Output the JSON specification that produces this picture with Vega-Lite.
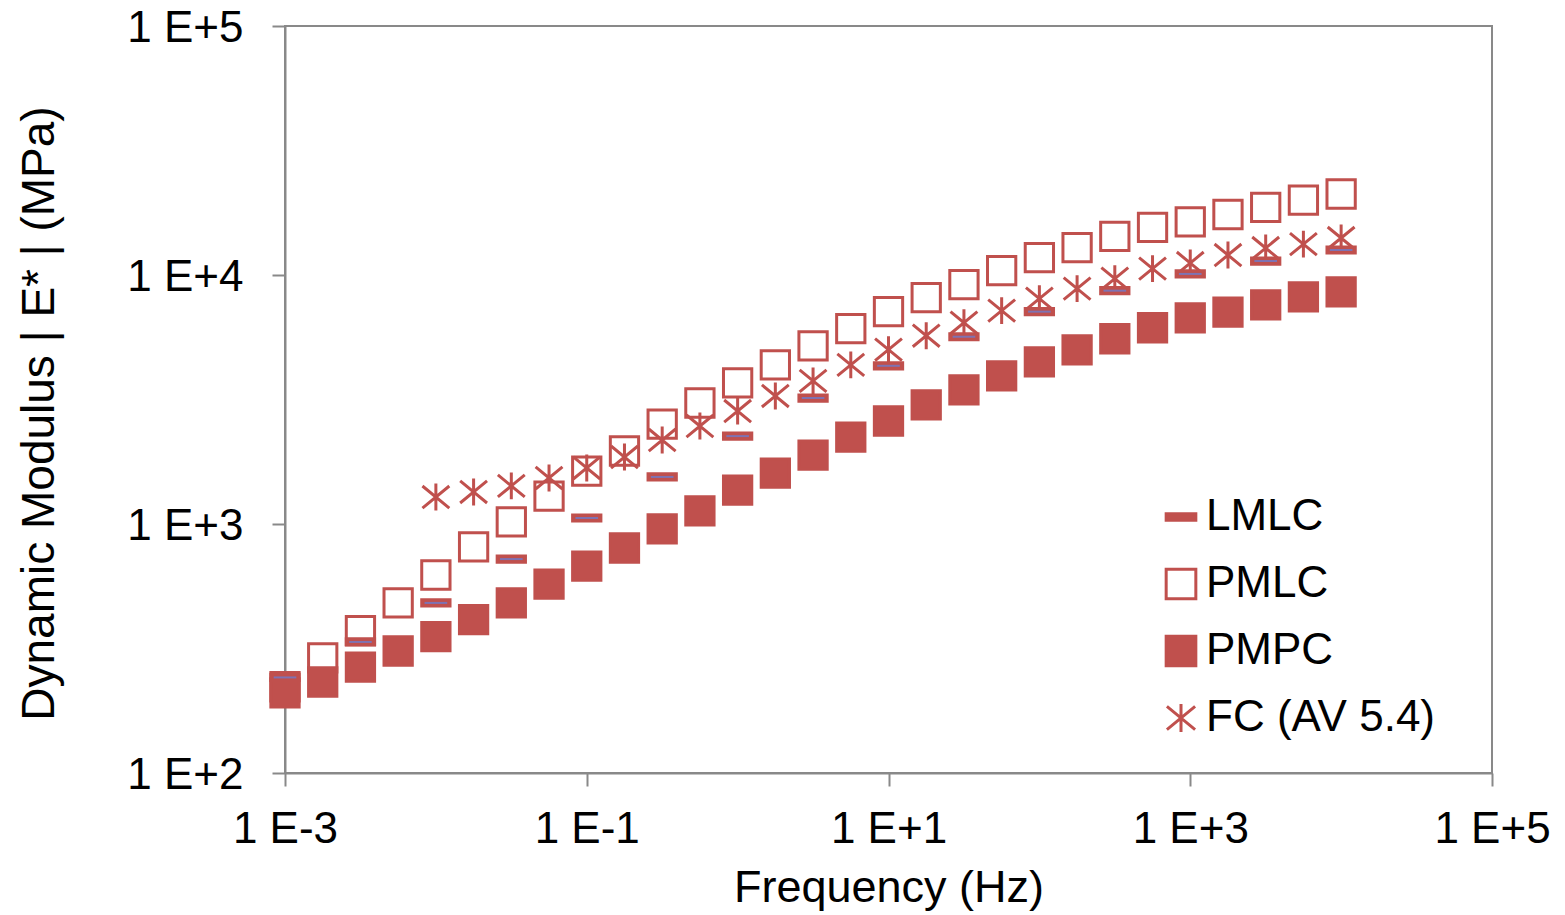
{
  "$schema": "https://vega.github.io/schema/vega-lite/v6.json",
  "width": 1207,
  "height": 747,
  "autosize": {"type": "none"},
  "padding": {"left": 285, "top": 26, "right": 73, "bottom": 142},
  "background": "white",
  "config": {
    "font": "Liberation Sans",
    "view": {"stroke": "#898989", "strokeWidth": 2},
    "legend": {
      "orient": "none",
      "legendX": 874,
      "legendY": 469,
      "labelFontSize": 44,
      "labelFont": "Liberation Sans",
      "labelColor": "black",
      "labelLimit": 400,
      "labelOffset": 3,
      "symbolSize": 880,
      "symbolStrokeWidth": 3,
      "symbolOpacity": 1,
      "rowPadding": 23,
      "padding": 0,
      "title": null
    }
  },
  "datasets": {
    "pts": [
      {"f": 0.001, "E": 222, "s": "PMLC"},
      {"f": 0.0017783, "E": 290, "s": "PMLC"},
      {"f": 0.0031623, "E": 373, "s": "PMLC"},
      {"f": 0.0056234, "E": 482, "s": "PMLC"},
      {"f": 0.01, "E": 624, "s": "PMLC"},
      {"f": 0.017783, "E": 809, "s": "PMLC"},
      {"f": 0.031623, "E": 1019, "s": "PMLC"},
      {"f": 0.056234, "E": 1295, "s": "PMLC"},
      {"f": 0.1, "E": 1632, "s": "PMLC"},
      {"f": 0.17783, "E": 1964, "s": "PMLC"},
      {"f": 0.31623, "E": 2520, "s": "PMLC"},
      {"f": 0.56234, "E": 3062, "s": "PMLC"},
      {"f": 1, "E": 3686, "s": "PMLC"},
      {"f": 1.7783, "E": 4357, "s": "PMLC"},
      {"f": 3.1623, "E": 5196, "s": "PMLC"},
      {"f": 5.6234, "E": 6087, "s": "PMLC"},
      {"f": 10, "E": 7125, "s": "PMLC"},
      {"f": 17.783, "E": 8113, "s": "PMLC"},
      {"f": 31.623, "E": 9150, "s": "PMLC"},
      {"f": 56.234, "E": 10420, "s": "PMLC"},
      {"f": 100, "E": 11750, "s": "PMLC"},
      {"f": 177.83, "E": 12890, "s": "PMLC"},
      {"f": 316.23, "E": 14280, "s": "PMLC"},
      {"f": 562.34, "E": 15530, "s": "PMLC"},
      {"f": 1000, "E": 16330, "s": "PMLC"},
      {"f": 1778.3, "E": 17500, "s": "PMLC"},
      {"f": 3162.3, "E": 18700, "s": "PMLC"},
      {"f": 5623.4, "E": 20000, "s": "PMLC"},
      {"f": 10000, "E": 21150, "s": "PMLC"},

      {"f": 0.001, "E": 210, "s": "PMPC"},
      {"f": 0.0017783, "E": 232, "s": "PMPC"},
      {"f": 0.0031623, "E": 266, "s": "PMPC"},
      {"f": 0.0056234, "E": 309, "s": "PMPC"},
      {"f": 0.01, "E": 353, "s": "PMPC"},
      {"f": 0.017783, "E": 413, "s": "PMPC"},
      {"f": 0.031623, "E": 482, "s": "PMPC"},
      {"f": 0.056234, "E": 574, "s": "PMPC"},
      {"f": 0.1, "E": 678, "s": "PMPC"},
      {"f": 0.17783, "E": 801, "s": "PMPC"},
      {"f": 0.31623, "E": 955, "s": "PMPC"},
      {"f": 0.56234, "E": 1128, "s": "PMPC"},
      {"f": 1, "E": 1367, "s": "PMPC"},
      {"f": 1.7783, "E": 1600, "s": "PMPC"},
      {"f": 3.1623, "E": 1891, "s": "PMPC"},
      {"f": 5.6234, "E": 2235, "s": "PMPC"},
      {"f": 10, "E": 2592, "s": "PMPC"},
      {"f": 17.783, "E": 3008, "s": "PMPC"},
      {"f": 31.623, "E": 3455, "s": "PMPC"},
      {"f": 56.234, "E": 3933, "s": "PMPC"},
      {"f": 100, "E": 4480, "s": "PMPC"},
      {"f": 177.83, "E": 5008, "s": "PMPC"},
      {"f": 316.23, "E": 5546, "s": "PMPC"},
      {"f": 562.34, "E": 6140, "s": "PMPC"},
      {"f": 1000, "E": 6733, "s": "PMPC"},
      {"f": 1778.3, "E": 7100, "s": "PMPC"},
      {"f": 3162.3, "E": 7586, "s": "PMPC"},
      {"f": 5623.4, "E": 8170, "s": "PMPC"},
      {"f": 10000, "E": 8550, "s": "PMPC"},

      {"f": 0.01, "E": 1283, "s": "FC (AV 5.4)"},
      {"f": 0.017783, "E": 1345, "s": "FC (AV 5.4)"},
      {"f": 0.031623, "E": 1422, "s": "FC (AV 5.4)"},
      {"f": 0.056234, "E": 1531, "s": "FC (AV 5.4)"},
      {"f": 0.1, "E": 1679, "s": "FC (AV 5.4)"},
      {"f": 0.17783, "E": 1858, "s": "FC (AV 5.4)"},
      {"f": 0.31623, "E": 2174, "s": "FC (AV 5.4)"},
      {"f": 0.56234, "E": 2474, "s": "FC (AV 5.4)"},
      {"f": 1, "E": 2843, "s": "FC (AV 5.4)"},
      {"f": 1.7783, "E": 3268, "s": "FC (AV 5.4)"},
      {"f": 3.1623, "E": 3756, "s": "FC (AV 5.4)"},
      {"f": 5.6234, "E": 4357, "s": "FC (AV 5.4)"},
      {"f": 10, "E": 5013, "s": "FC (AV 5.4)"},
      {"f": 17.783, "E": 5705, "s": "FC (AV 5.4)"},
      {"f": 31.623, "E": 6433, "s": "FC (AV 5.4)"},
      {"f": 56.234, "E": 7191, "s": "FC (AV 5.4)"},
      {"f": 100, "E": 8037, "s": "FC (AV 5.4)"},
      {"f": 177.83, "E": 8816, "s": "FC (AV 5.4)"},
      {"f": 316.23, "E": 9668, "s": "FC (AV 5.4)"},
      {"f": 562.34, "E": 10610, "s": "FC (AV 5.4)"},
      {"f": 1000, "E": 11170, "s": "FC (AV 5.4)"},
      {"f": 1778.3, "E": 12030, "s": "FC (AV 5.4)"},
      {"f": 3162.3, "E": 12830, "s": "FC (AV 5.4)"},
      {"f": 5623.4, "E": 13310, "s": "FC (AV 5.4)"},
      {"f": 10000, "E": 14080, "s": "FC (AV 5.4)"},

      {"f": 0.001, "E": 242, "s": "LMLC"},
      {"f": 0.0031623, "E": 336, "s": "LMLC"},
      {"f": 0.01, "E": 482, "s": "LMLC"},
      {"f": 0.031623, "E": 723, "s": "LMLC"},
      {"f": 0.1, "E": 1057, "s": "LMLC"},
      {"f": 0.31623, "E": 1545, "s": "LMLC"},
      {"f": 1, "E": 2254, "s": "LMLC"},
      {"f": 3.1623, "E": 3206, "s": "LMLC"},
      {"f": 10, "E": 4318, "s": "LMLC"},
      {"f": 31.623, "E": 5650, "s": "LMLC"},
      {"f": 100, "E": 7125, "s": "LMLC"},
      {"f": 316.23, "E": 8650, "s": "LMLC"},
      {"f": 1000, "E": 10100, "s": "LMLC"},
      {"f": 3162.3, "E": 11380, "s": "LMLC"},
      {"f": 10000, "E": 12600, "s": "LMLC"}
    ]
  },
  "data": {"name": "pts"},
  "encoding": {
    "x": {
      "field": "f",
      "type": "quantitative",
      "scale": {"type": "log", "domain": [0.001, 100000], "nice": false},
      "axis": {
        "values": [0.001, 0.1, 10, 1000, 100000],
        "labelExpr": "'1 E' + (datum.value >= 1 ? '+' : '') + round(log(datum.value) / LN10)",
        "labelFontSize": 44,
        "labelFont": "Liberation Sans",
        "labelColor": "black",
        "labelPadding": 21,
        "labelFlush": false,
        "labelOverlap": false,
        "labelBound": false,
        "tickSize": 13,
        "tickColor": "#898989",
        "tickWidth": 2,
        "domainColor": "#898989",
        "domainWidth": 2,
        "grid": false,
        "title": "Frequency (Hz)",
        "titleFont": "Liberation Sans",
        "titleFontSize": 45,
        "titleFontWeight": "normal",
        "titleColor": "black",
        "titleBaseline": "alphabetic",
        "titleAlign": "center",
        "titleX": 603.5,
        "titleY": 128
      }
    },
    "y": {
      "field": "E",
      "type": "quantitative",
      "scale": {"type": "log", "domain": [100, 100000], "nice": false},
      "axis": {
        "values": [100, 1000, 10000, 100000],
        "labelExpr": "'1 E' + (datum.value >= 1 ? '+' : '') + round(log(datum.value) / LN10)",
        "labelFontSize": 44,
        "labelFont": "Liberation Sans",
        "labelColor": "black",
        "labelPadding": 29,
        "labelOffset": 2,
        "labelFlush": false,
        "labelOverlap": false,
        "labelBound": false,
        "tickSize": 13,
        "tickColor": "#898989",
        "tickWidth": 2,
        "domainColor": "#898989",
        "domainWidth": 2,
        "grid": false,
        "title": "Dynamic Modulus | E* |  (MPa)",
        "titleFont": "Liberation Sans",
        "titleFontSize": 46,
        "titleFontWeight": "normal",
        "titleColor": "black",
        "titleAngle": -90,
        "titleBaseline": "alphabetic",
        "titleAlign": "center",
        "titleX": -232,
        "titleY": 387
      }
    }
  },
  "layer": [
    {
      "mark": {"type": "point", "size": 800, "strokeWidth": 3, "opacity": 1},
      "encoding": {
        "shape": {
          "field": "s",
          "type": "nominal",
          "scale": {
            "domain": ["LMLC", "PMLC", "PMPC", "FC (AV 5.4)"],
            "range": ["M-1,-0.22H1V0.22H-1Z", "square", "square", "M0,-0.95V0.95M-0.95,-0.78L0.95,0.78M-0.95,0.78L0.95,-0.78"]
          },
          "legend": {"title": null}
        },
        "fill": {
          "field": "s",
          "type": "nominal",
          "scale": {
            "domain": ["LMLC", "PMLC", "PMPC", "FC (AV 5.4)"],
            "range": ["#C0504D", "#FFFFFF", "#C0504D", "transparent"]
          },
          "legend": {"title": null}
        },
        "stroke": {
          "field": "s",
          "type": "nominal",
          "scale": {
            "domain": ["LMLC", "PMLC", "PMPC", "FC (AV 5.4)"],
            "range": ["#C0504D", "#C0504D", "#C0504D", "#C0504D"]
          },
          "legend": {"title": null}
        }
      }
    },
    {
      "transform": [{"filter": "datum.s === 'LMLC'"}],
      "mark": {"type": "point", "shape": "M-0.8,0H0.8", "size": 800, "filled": false, "stroke": "#7E72B2", "strokeWidth": 2, "opacity": 1}
    }
  ]
}
